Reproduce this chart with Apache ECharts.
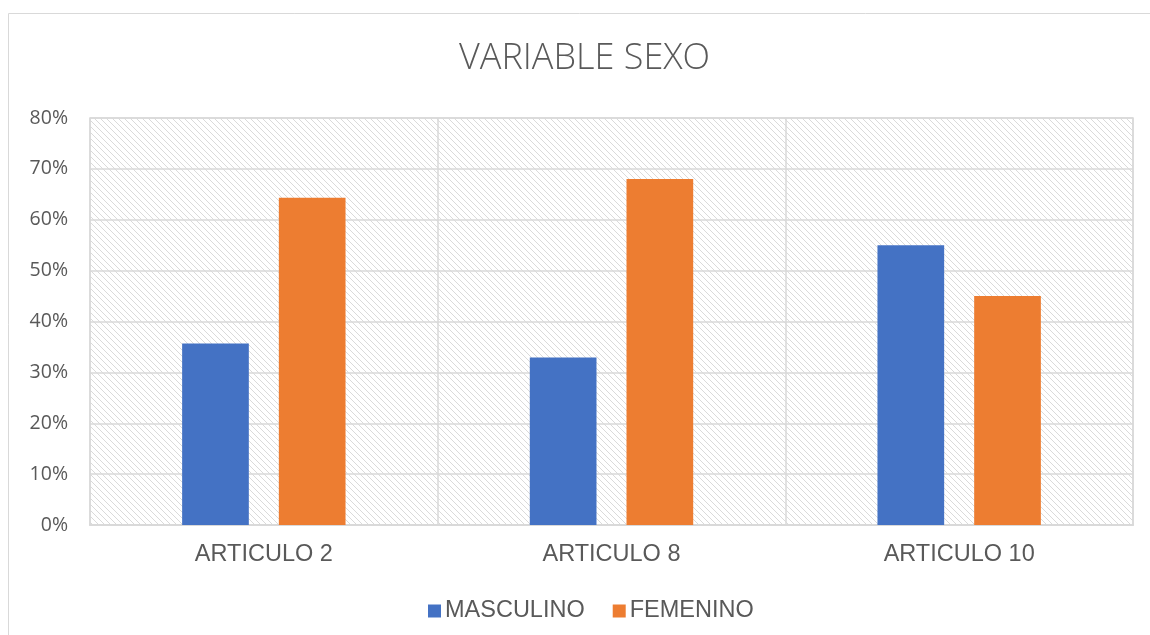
<!DOCTYPE html>
<html lang="es" style="height: 100%">
<head>
  <meta charset="UTF-8" />
  <title>VARIABLE SEXO</title>
  <script src="https://cdn.jsdelivr.net/npm/echarts@6/dist/echarts.min.js"></script>
</head>
<body style="height: 100%; margin: 0; background: #fff">
  <div id="container" style="width: 1150px; height: 635px"></div>
  <script type="text/javascript">
    // datos
    var categorias = ["ARTICULO 2", "ARTICULO 8", "ARTICULO 10"];
    var masculino = [35.7, 32.9, 55.0];
    var femenino = [64.3, 68.0, 45.0];
    var ticksY = [0, 10, 20, 30, 40, 50, 60, 70, 80];

    // trama diagonal del fondo
    var tile = document.createElement("canvas");
    tile.width = 6;
    tile.height = 6;
    var c = tile.getContext("2d");
    c.strokeStyle = "#dadada";
    c.lineWidth = 1;
    c.beginPath();
    c.moveTo(-1, -1); c.lineTo(7, 7);
    c.moveTo(-7, -1); c.lineTo(1, 7);
    c.moveTo(5, -1); c.lineTo(13, 7);
    c.stroke();

    var dom = document.getElementById("container");
    var myChart = echarts.init(dom, null, { renderer: "canvas" });

    var gris = "#595959";
    var option = {
      animation: false,
      title: {
        text: "VARIABLE SEXO",
        left: 454,
        top: 36,
        textStyle: { fontFamily: "Open Sans", fontSize: 36, fontWeight: 300, color: gris }
      },
      graphic: [{
        type: "rect",
        shape: { x: 8.5, y: 13.5, width: 1200, height: 700 },
        style: { fill: "none", stroke: "#d9d9d9", lineWidth: 1 },
        silent: true
      }],
      legend: {
        left: 423,
        top: 594,
        itemWidth: 13,
        itemHeight: 13,
        itemGap: 28,
        icon: "rect",
        textStyle: { fontFamily: "Liberation Sans", fontSize: 23.5, color: gris, padding: [0, 0, 0, -1] },
        data: ["MASCULINO", "FEMENINO"]
      },
      grid: {
        left: 90,
        right: 17,
        top: 118,
        bottom: 110,
        show: true,
        borderColor: "#d9d9d9",
        borderWidth: 1.5,
        backgroundColor: { image: tile, repeat: "repeat" }
      },
      xAxis: {
        type: "category",
        data: categorias,
        axisLine: { lineStyle: { color: "#d9d9d9", width: 2 } },
        axisTick: { show: false },
        axisLabel: { fontFamily: "Liberation Sans", fontSize: 23.5, color: gris, margin: 18 },
        splitLine: { show: true, lineStyle: { color: "#d9d9d9", width: 1.5 } }
      },
      yAxis: {
        type: "value",
        min: ticksY[0],
        max: ticksY[ticksY.length - 1],
        interval: 10,
        axisLine: { show: false },
        axisTick: { show: false },
        axisLabel: { formatter: "{value}%", fontFamily: "Open Sans", fontSize: 19.5, color: gris, margin: 22 },
        splitLine: { lineStyle: { color: "#d9d9d9", width: 1.5 } }
      },
      series: [
        {
          name: "MASCULINO",
          type: "bar",
          data: masculino,
          barGap: "45%",
          barCategoryGap: "53%",
          itemStyle: { color: "#4472C4" }
        },
        {
          name: "FEMENINO",
          type: "bar",
          data: femenino,
          itemStyle: { color: "#ED7D31" }
        }
      ]
    };
    myChart.setOption(option);
  </script>
</body>
</html>
